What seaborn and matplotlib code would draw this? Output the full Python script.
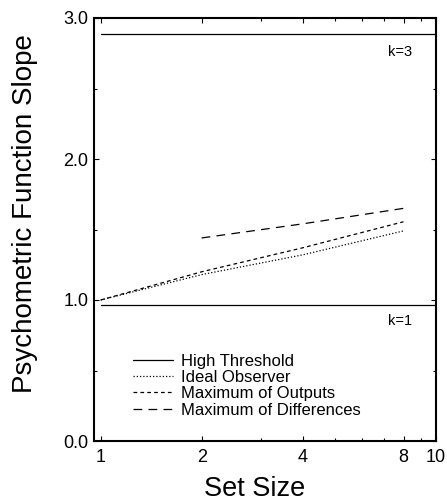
import numpy as np
import pandas as pd
import matplotlib
matplotlib.use("Agg")
import matplotlib.pyplot as plt
from matplotlib.ticker import FixedLocator, FixedFormatter, NullFormatter
import seaborn as sns

# Model predictions: psychometric function slope vs. set size
set_sizes = [1, 2, 4, 8]
ideal_observer = [1.00, 1.18, 1.32, 1.49]
max_outputs = [1.00, 1.20, 1.37, 1.555]
diff_sizes = [2, 4, 8]
max_differences = [1.44, 1.54, 1.65]

# High-threshold predictions are flat in set size, one line per k
ht_sizes = [1, 10]
ht_k1 = [0.965, 0.965]
ht_k3 = [2.885, 2.885]

model_names = ["High Threshold", "Ideal Observer",
               "Maximum of Outputs", "Maximum of Differences"]

frames = [
    pd.DataFrame({"set_size": ht_sizes, "slope": ht_k1,
                  "model": model_names[0], "curve": "ht_k1"}),
    pd.DataFrame({"set_size": ht_sizes, "slope": ht_k3,
                  "model": model_names[0], "curve": "ht_k3"}),
    pd.DataFrame({"set_size": set_sizes, "slope": ideal_observer,
                  "model": model_names[1], "curve": "io"}),
    pd.DataFrame({"set_size": set_sizes, "slope": max_outputs,
                  "model": model_names[2], "curve": "mo"}),
    pd.DataFrame({"set_size": diff_sizes, "slope": max_differences,
                  "model": model_names[3], "curve": "md"}),
]
df = pd.concat(frames, ignore_index=True)

sns.set_theme(style="ticks")
plt.rcParams["font.family"] = ["Liberation Sans", "DejaVu Sans"]
plt.rcParams.update({
    "text.color": "black",
    "axes.labelcolor": "black",
    "xtick.color": "black",
    "ytick.color": "black",
})

fig = plt.figure(figsize=(4.47, 5.01), dpi=100)
ax = fig.add_axes([94 / 447, 1 - 441 / 501, 342 / 447, 423 / 501])

line_dashes = {
    model_names[0]: "",
    model_names[1]: (1, 1.6),
    model_names[2]: (3, 2.5),
    model_names[3]: (7, 5),
}

sns.lineplot(data=df, x="set_size", y="slope", style="model",
             style_order=model_names, units="curve", estimator=None,
             dashes=line_dashes, color="black", linewidth=0.9,
             sort=False, ax=ax, legend=True)

ax.set_xscale("log")
ax.set_xlim(0.955, 10)
ax.set_ylim(0.0, 3.0)

ax.xaxis.set_major_locator(FixedLocator([1, 2, 4, 8, 10]))
ax.xaxis.set_major_formatter(FixedFormatter(["1", "2", "4", "8", "10"]))
ax.xaxis.set_minor_locator(FixedLocator([3, 5, 6, 7, 9]))
ax.xaxis.set_minor_formatter(NullFormatter())
ax.yaxis.set_major_locator(FixedLocator([0.0, 1.0, 2.0, 3.0]))
ax.yaxis.set_major_formatter(FixedFormatter(["0.0", "1.0", "2.0", "3.0"]))
ax.yaxis.set_minor_locator(FixedLocator([0.5, 1.5, 2.5]))

ax.tick_params(which="both", direction="in", top=True, right=True,
               color="black", width=0.8)
ax.tick_params(which="major", length=3.5, labelsize=13)
ax.tick_params(which="minor", length=2.5)
ax.tick_params(axis="x", which="major", pad=6)
ax.tick_params(axis="y", which="major", pad=4)
for spine in ax.spines.values():
    spine.set_visible(True)
    spine.set_linewidth(1.5)
    spine.set_color("black")

ax.set_xlabel("Set Size", fontsize=19.5)
ax.set_ylabel("Psychometric Function Slope", fontsize=20)
ax.xaxis.set_label_coords((255 - 94) / 342, -0.083)
ax.yaxis.set_label_coords(-0.164, (441 - 214) / 423)

ax.text(0.895, 2.76, "k=3", transform=ax.get_yaxis_transform(),
        ha="center", va="center", fontsize=10.5)
ax.text(0.895, 0.853, "k=1", transform=ax.get_yaxis_transform(),
        ha="center", va="center", fontsize=10.5)

handles, labels = ax.get_legend_handles_labels()
leg = ax.legend(handles, labels, loc="upper left",
                bbox_to_anchor=(0.095, 0.2225), frameon=False,
                fontsize=12, handlelength=2.4, handletextpad=0.45,
                labelspacing=0.08, borderaxespad=0.0)
for h in leg.get_lines():
    h.set_linewidth(0.9)
    h.set_color("black")

fig.savefig("out.png", dpi=100, facecolor="white")
